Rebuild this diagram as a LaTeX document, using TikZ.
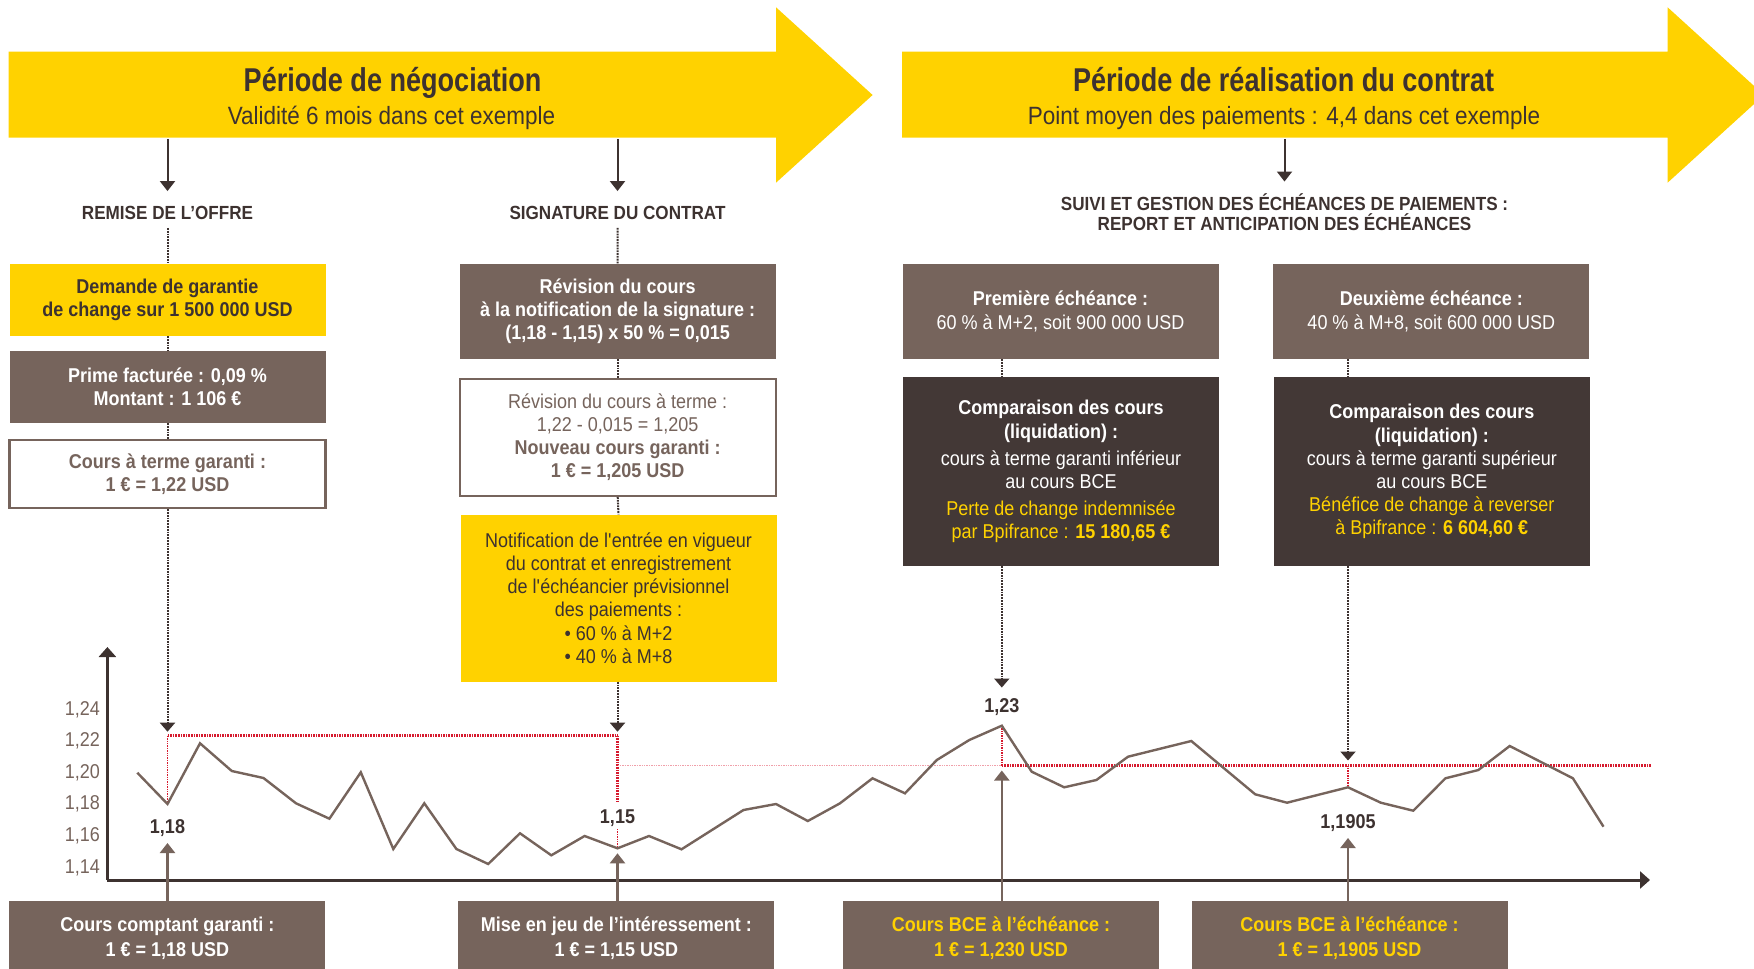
\documentclass[tikz,border=0pt]{standalone}
\usepackage{fontspec}
\setmainfont{Liberation Sans}[FakeStretch=0.9]
\newfontfamily\titrefont{Liberation Sans}[FakeStretch=0.82]
\usetikzlibrary{arrows.meta}

\definecolor{bjaune}{RGB}{255,210,0}
\definecolor{btaupe}{RGB}{118,100,92}
\definecolor{bsombre}{RGB}{67,56,54}
\definecolor{btexte}{RGB}{61,50,48}
\definecolor{brouge}{RGB}{214,26,46}
\definecolor{brose}{RGB}{240,160,170}

\newcommand{\tboite}{\fontsize{20}{23.2}\selectfont}
\newcommand{\tetiq}{\fontsize{19}{20}\selectfont\bfseries}

\tikzset{
  boite/.style={minimum width=316, minimum height=#1, align=center, inner sep=0pt, font=\tboite},
  jaune/.style={boite=#1, fill=bjaune, text=btexte},
  taupe/.style={boite=#1, fill=btaupe, text=white},
  sombre/.style={boite=#1, fill=bsombre, text=white},
  cadre/.style={boite=#1, fill=white, draw=btaupe, line width=2.4pt, text=btaupe},
  bas/.style={boite=#1, fill=btaupe, text=white, font=\tboite\bfseries},
  etiquette/.style={inner sep=0pt, align=center, text=btexte, font=\tetiq},
  graduation/.style={inner sep=0pt, anchor=base east, text=btaupe, font=\fontsize{20}{22}\selectfont},
  chiffre/.style={inner sep=0pt, anchor=base, text=btexte, font=\fontsize{20}{22}\selectfont\bfseries},
  fleche/.style={fill=bjaune, draw=none},
  descente/.style={draw=btexte, line width=2pt, -{Triangle[width=15pt,length=10pt]}},
  lien/.style={draw=btexte, line width=2pt, dash pattern=on 1.8pt off 1pt},
  lienfl/.style={lien, -{Triangle[width=15pt,length=9pt]}},
  montee/.style={draw=btaupe, line width=2.2pt, -{Triangle[width=15pt,length=10pt]}},
  axe/.style={draw=btexte, line width=3pt, -{Triangle[width=17pt,length=10pt]}},
  courbe/.style={draw=btaupe, line width=2.4pt},
  rouge/.style={draw=brouge, line width=2.8pt, dash pattern=on 1.6pt off 1pt},
  rougefin/.style={draw=brouge, line width=1.6pt, dash pattern=on 1.4pt off 1pt},
  rose/.style={draw=brose, line width=1.4pt, dash pattern=on 1.4pt off 1pt},
}

\begin{document}
\begin{tikzpicture}[x=1pt, y=-1pt]
\useasboundingbox (0,0) rectangle (1754,969);
\clip (0,0) rectangle (1754,969);

% ---- the two period arrows ----
\fill[fleche] (8.5,51.7) -- (776,51.7) -- (776,7.3) -- (872.6,95) -- (776,182.7)
  -- (776,137.7) -- (8.5,137.7) -- cycle;
\fill[fleche] (902,51.7) -- (1667.6,51.7) -- (1667.6,7.3) -- (1764,95) -- (1667.6,182.7)
  -- (1667.6,137.7) -- (902,137.7) -- cycle;

\node[anchor=base, inner sep=0pt, text=btexte, font=\titrefont\fontsize{33}{35}\selectfont\bfseries]
  (titre1) at (392.6,91.7) {Période de négociation};
\node[anchor=base, inner sep=0pt, text=btexte, font=\fontsize{25}{27}\selectfont]
  (sous1) at (391.5,124) {Validité 6 mois dans cet exemple};
\node[anchor=base, inner sep=0pt, text=btexte, font=\titrefont\fontsize{33}{35}\selectfont\bfseries]
  (titre2) at (1283.6,91.7) {Période de réalisation du contrat};
\node[anchor=base, inner sep=0pt, text=btexte, font=\fontsize{25}{27}\selectfont]
  (sous2) at (1284,124) {Point moyen des paiements : 4,4 dans cet exemple};

% ---- stage labels ----
\coordinate (s1) at (167.5,139);
\coordinate (s2) at (617.5,139);
\coordinate (s3) at (1284.5,139);
\node[etiquette] (remise) at (167.5,213) {REMISE DE L’OFFRE};
\node[etiquette] (signature) at (617.5,213) {SIGNATURE DU CONTRAT};
\node[etiquette] (suivi) at (1284.5,212) {SUIVI ET GESTION DES ÉCHÉANCES DE PAIEMENTS :\\[-0.5pt]REPORT ET ANTICIPATION DES ÉCHÉANCES};

\draw[descente, shorten >=15pt] (s1) -- (remise.north);
\draw[descente, shorten >=15pt] (s2) -- (signature.north);
\draw[descente, shorten >=12pt] (s3) -- (suivi.north);

% ---- negotiation column ----
\node[jaune=72] (demande) at (167.5,300)
  {\textbf{Demande de garantie}\\\textbf{de change sur 1 500 000 USD}};
\node[taupe=72] (prime) at (167.5,387)
  {\textbf{Prime facturée : 0,09 \%}\\\textbf{Montant : 1 106 €}};
\node[cadre=68] (terme) at (167.5,474)
  {\textbf{Cours à terme garanti :}\\\textbf{1 € = 1,22 USD}};

% ---- signature column ----
\node[taupe=95] (revision) at (617.7,311.5)
  {\textbf{Révision du cours}\\\textbf{à la notification de la signature :}\\\textbf{(1,18 - 1,15) x 50 \% = 0,015}};
\node[cadre=117] (nouveau) at (617.7,437.3)
  {Révision du cours à terme :\\1,22 - 0,015 = 1,205\\\textbf{Nouveau cours garanti :}\\\textbf{1 € = 1,205 USD}};
\node[jaune=167] (notif) at (618.5,598)
  {Notification de l\textquotesingle entrée en vigueur\\du contrat et enregistrement\\de l\textquotesingle échéancier prévisionnel\\des paiements :\\• 60 \% à M+2\\• 40 \% à M+8};

% ---- payment columns ----
\node[taupe=95] (prem) at (1060.5,311.5)
  {\textbf{Première échéance :}\\60 \% à M+2, soit 900 000 USD};
\node[taupe=95] (deux) at (1431.3,311.5)
  {\textbf{Deuxième échéance :}\\40 \% à M+8, soit 600 000 USD};
\node[sombre=189] (comp1) at (1061,471.7)
  {\textbf{Comparaison des cours}\\\textbf{(liquidation) :}\\[4pt]cours à terme garanti inférieur\\au cours BCE\\[4pt]
   \textcolor{bjaune}{Perte de change indemnisée}\\\textcolor{bjaune}{par Bpifrance : \textbf{15 180,65 €}}};
\node[sombre=189] (comp2) at (1431.8,471.7)
  {\textbf{Comparaison des cours}\\\textbf{(liquidation) :}\\cours à terme garanti supérieur\\au cours BCE\\
   \textcolor{bjaune}{Bénéfice de change à reverser}\\\textcolor{bjaune}{à Bpifrance : \textbf{6 604,60 €}}};

% ---- chart: key points ----
\coordinate (o) at (107.4,880);
\coordinate (ytop) at (107.4,647);
\coordinate (xend) at (1650,880);
\coordinate (p118) at (167.5,804);
\coordinate (p115) at (617.5,848.3);
\coordinate (p123) at (1001.8,725.7);
\coordinate (p1905) at (1348,787.3);
\coordinate (r1) at (167.5,735.7);
\coordinate (r2) at (617.5,735.7);
\coordinate (r2b) at (617.5,801);
\coordinate (r2c) at (617.5,829);
\coordinate (r3) at (617.5,765.5);
\coordinate (r4) at (1001.8,765.5);
\coordinate (r5) at (1651,765.5);
\coordinate (r6) at (1348,765.5);

% guaranteed rates (red)
\draw[rouge] (r1) -- (r2);
\draw[rougefin] (r1) -- (p118);
\draw[rouge] (r2) -- (r2b);
\draw[rougefin] (r2c) -- (p115);
\draw[rose] (r3) -- (r4);
\draw[rouge] (r4) -- (r5);
\draw[rougefin] (p123) -- (r4);
\draw[rougefin] (r6) -- (p1905);

% exchange rate curve
\draw[courbe] (137.3,772.7) -- (p118) -- (200,743.3) -- (231.8,771) -- (263.5,778) -- (296,803.3)
  -- (329.4,818.7) -- (360.8,772.3) -- (393.3,849) -- (424.3,803.3) -- (456.4,849) -- (488.2,864)
  -- (520,833.3) -- (551.3,855.3) -- (584.6,836) -- (p115) -- (649,836) -- (681.5,849.3)
  -- (743.5,810) -- (776,804) -- (807.8,821) -- (840,803.3) -- (872.5,778.3) -- (905,793.3)
  -- (936.8,760) -- (969.3,740) -- (p123) -- (1031.7,771.7) -- (1064.2,787.3) -- (1096.4,780)
  -- (1128,756.7) -- (1191.3,741) -- (1255.2,794.3) -- (1287,802.7) -- (p1905) -- (1380.8,802.7)
  -- (1413.3,810.7) -- (1445.4,778.3) -- (1478.4,770) -- (1509.7,746) -- (1572.9,778.3) -- (1603.5,826.7);

% axes
\draw[axe] (o) -- (ytop);
\draw[axe] (o) -- (xend);

% y tick labels
\node[graduation] (g124) at (100,715) {1,24};
\node[graduation] (g122) at (100,746.6) {1,22};
\node[graduation] (g120) at (100,778.2) {1,20};
\node[graduation] (g118) at (100,809.8) {1,18};
\node[graduation] (g116) at (100,841.4) {1,16};
\node[graduation] (g114) at (100,873) {1,14};

% point labels
\node[chiffre] (l118) at (167.5,833.7) {1,18};
\node[chiffre] (l115) at (617.5,823.7) {1,15};
\node[chiffre] (l123) at (1001.8,712.7) {1,23};
\node[chiffre] (l1905) at (1348,828.7) {1,1905};

% dotted links down the columns
\draw[lien] (remise.south) ++(0,8) -- (demande.north);
\draw[lien] (demande.south) -- (prime.north);
\draw[lien] (prime.south) -- (terme.north);
\draw[lienfl, shorten >=4pt] (terme.south) -- (r1);
\draw[lien] (signature.south) ++(0,8) -- (revision.north);
\draw[lien] (revision.south) -- (nouveau.north);
\draw[lien] (nouveau.south) -- (notif.north);
\draw[lienfl, shorten >=4pt] (notif.south -| r2) -- (r2);
\draw[lien] (prem.south -| p123) -- (comp1.north -| p123);
\draw[lienfl, shorten >=11pt] (comp1.south -| p123) -- (l123.north);
\draw[lien] (deux.south -| p1905) -- (comp2.north -| p1905);
\draw[lienfl, shorten >=5pt] (comp2.south -| p1905) -- (r6);

% ---- bottom boxes ----
\node[bas=74] (bas1) at (167.3,938) {Cours comptant garanti :\\[1.5pt]1 € = 1,18 USD};
\node[bas=74] (bas2) at (616.3,938) {Mise en jeu de l’intéressement :\\[1.5pt]1 € = 1,15 USD};
\node[bas=74, text=bjaune] (bas3) at (1001,938) {Cours BCE à l’échéance :\\[1.5pt]1 € = 1,230 USD};
\node[bas=74, text=bjaune] (bas4) at (1349.5,938) {Cours BCE à l’échéance :\\[1.5pt]1 € = 1,1905 USD};

\draw[montee, shorten >=6pt] (bas1.north -| p118) -- (l118.south);
\draw[montee, shorten >=5pt] (bas2.north -| p115) -- (p115);
\draw[montee, shorten >=5pt] (bas3.north -| p123) -- (r4);
\draw[montee, shorten >=6pt] (bas4.north -| p1905) -- (l1905.south);
\end{tikzpicture}
\end{document}
